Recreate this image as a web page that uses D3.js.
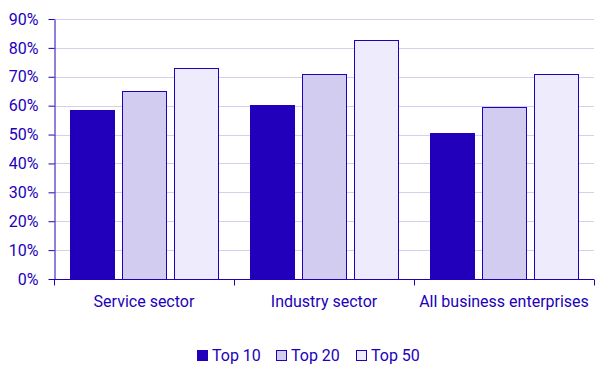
<!DOCTYPE html>
<html>
<head>
<meta charset="utf-8">
<script src="https://cdn.jsdelivr.net/npm/d3@7"></script>
<style>
body { margin: 0; background: #fff; }
text { font-family: Roboto, sans-serif; }
</style>
</head>
<body>
<svg id="chart"></svg>
<script>
const width = 609;
const height = 378;
const margin = {top: 19, right: 15, bottom: 99, left: 54};

const categories = ['Service sector', 'Industry sector', 'All business enterprises'];
const seriesNames = ['Top 10', 'Top 20', 'Top 50'];
const top10 = [58.4, 60.1, 50.4];
const top20 = [65.0, 70.8, 59.4];
const top50 = [73.1, 82.9, 70.8];
const yTicks = [0, 10, 20, 30, 40, 50, 60, 70, 80, 90];

const fills = ['#2200bb', '#d2cdf0', '#eeecfc'];
const ink = '#2200bb';
const gridColor = '#d4d0ee';

const rows = categories.map((c, i) => ({
    category: c,
    values: [top10[i], top20[i], top50[i]]
}));

const svg = d3.select('#chart')
    .attr('width', width)
    .attr('height', height);

const x0 = d3.scaleBand().domain(categories)
    .range([margin.left, width - margin.right]);
const x1 = d3.scaleBand().domain(seriesNames)
    .range([16, x0.bandwidth() - 15]).paddingInner(0.135);
const y = d3.scaleLinear().domain([0, 90])
    .range([height - margin.bottom, margin.top]);

// grid
svg.append('g')
    .selectAll('line')
    .data(yTicks.slice(1))
    .enter()
    .append('line')
    .attr('x1', margin.left)
    .attr('x2', width - margin.right)
    .attr('y1', d => Math.round(y(d)) + 0.5)
    .attr('y2', d => Math.round(y(d)) + 0.5)
    .attr('stroke', gridColor)
    .attr('stroke-width', 1);

// bars
const groups = svg.append('g')
    .selectAll('g')
    .data(rows)
    .enter()
    .append('g')
    .attr('transform', d => `translate(${x0(d.category)},0)`);

groups.selectAll('rect')
    .data(d => d.values.map((v, i) => ({name: seriesNames[i], value: v, idx: i})))
    .enter()
    .append('rect')
    .attr('x', d => Math.round(x1(d.name)) + 0.5)
    .attr('y', d => Math.round(y(d.value)) + 0.5)
    .attr('width', Math.round(x1.bandwidth()) - 1)
    .attr('height', d => Math.round(y(0)) - Math.round(y(d.value)))
    .attr('fill', d => fills[d.idx])
    .attr('stroke', ink)
    .attr('stroke-width', 1);

// y axis
const yAxis = svg.append('g')
    .attr('transform', `translate(${margin.left + 0.5},0)`)
    .call(d3.axisLeft(y).tickValues(yTicks).tickFormat(d => d + '%').tickSize(6).tickSizeOuter(0));
yAxis.select('.domain').attr('stroke', ink);
yAxis.selectAll('.tick line').attr('stroke', ink);
yAxis.selectAll('.tick text')
    .attr('fill', ink)
    .attr('font-size', 16)
    .attr('x', -16)
    .attr('font-family', 'Roboto, sans-serif');

// x axis
const xAxis = svg.append('g')
    .attr('transform', `translate(0,${Math.round(y(0)) + 0.5})`);
xAxis.append('line')
    .attr('x1', margin.left)
    .attr('x2', width - margin.right)
    .attr('stroke', ink);
xAxis.selectAll('.sep')
    .data(categories.map(c => x0(c)).concat([width - margin.right]))
    .enter()
    .append('line')
    .attr('class', 'sep')
    .attr('x1', d => Math.round(d) + 0.5)
    .attr('x2', d => Math.round(d) + 0.5)
    .attr('y1', 0)
    .attr('y2', 6)
    .attr('stroke', ink);
xAxis.selectAll('text')
    .data(categories)
    .enter()
    .append('text')
    .attr('x', d => x0(d) + x0.bandwidth() / 2)
    .attr('y', 27.5)
    .attr('text-anchor', 'middle')
    .attr('fill', ink)
    .attr('font-size', 16)
    .text(d => d);

// legend
const legendItems = [
    {name: 'Top 10', x: 197},
    {name: 'Top 20', x: 276},
    {name: 'Top 50', x: 356}
];
const legend = svg.append('g');
const li = legend.selectAll('g')
    .data(legendItems)
    .enter()
    .append('g')
    .attr('transform', d => `translate(${d.x},350)`);
li.append('rect')
    .attr('x', 0.5)
    .attr('y', 0.5)
    .attr('width', 10)
    .attr('height', 10)
    .attr('fill', (d, i) => fills[i])
    .attr('stroke', ink);
li.append('text')
    .attr('x', 15)
    .attr('y', 11)
    .attr('fill', ink)
    .attr('font-size', 16)
    .text(d => d.name);
</script>
</body>
</html>
